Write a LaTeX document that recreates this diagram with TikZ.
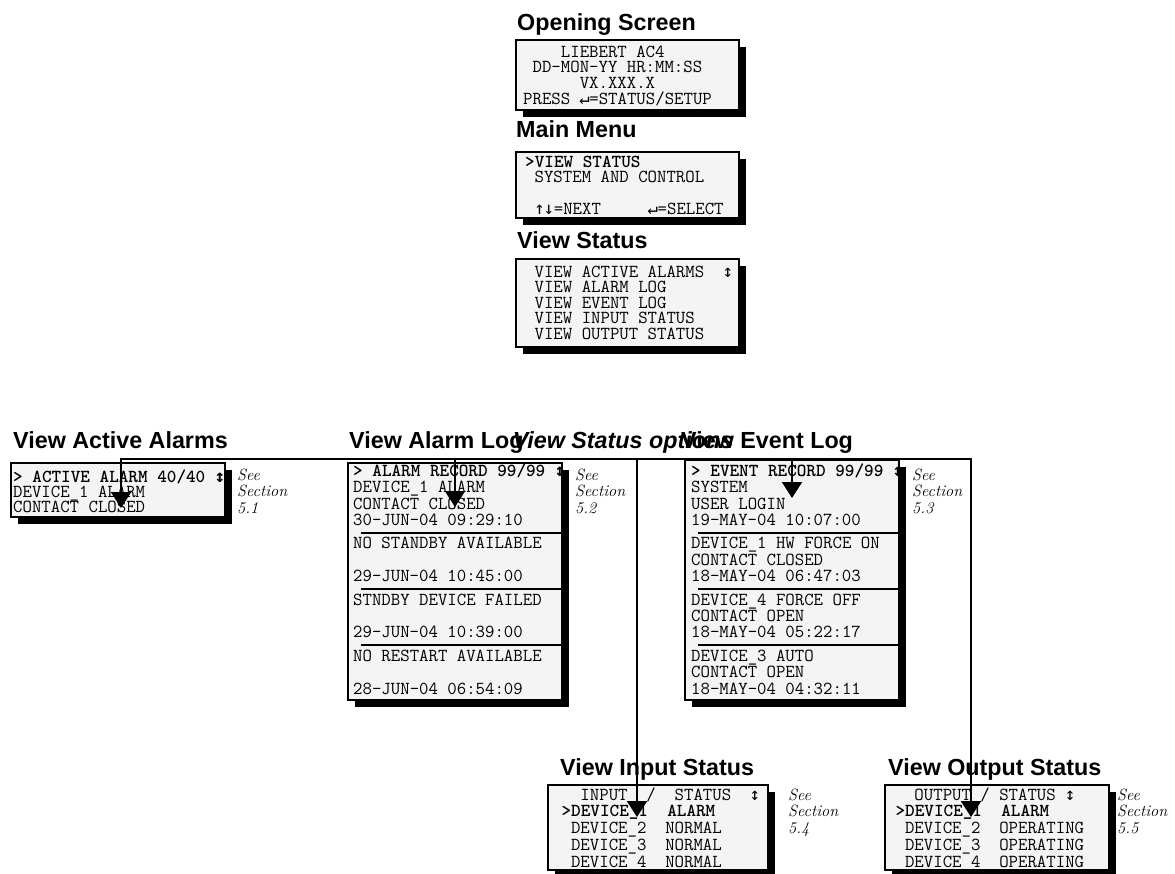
\documentclass[tikz,border=0pt]{standalone}
\usepackage{fontspec}
\usetikzlibrary{arrows.meta,shadows}
\newfontfamily\headfont{Liberation Sans}
\newfontfamily\glyphfont{DejaVu Sans Mono}[Scale=0.95]
\definecolor{lcd}{RGB}{244,244,244}
\def\updn{\makebox[0.525em]{\glyphfont ↕}}
\def\ret{\makebox[0.525em]{\glyphfont ↵}}
\def\nxt{\makebox[1.05em]{\glyphfont ↑\kern-1pt↓}}
\def\st{\rule{0pt}{15pt}}
\def\lcdfont#1{\ttfamily\fontsize{18.3}{#1}\selectfont\lineskiplimit=-50pt}
\tikzset{
  screen/.style={draw, line width=2pt, fill=lcd, inner sep=0pt, outer sep=0pt, anchor=north west,
    drop shadow={shadow xshift=7pt, shadow yshift=-7pt, fill=black, opacity=1}},
  lcdtext/.style={anchor=north west, align=left, inner sep=0pt, font=\lcdfont{#1}},
  lcdtext/.default=16.4,
  heading/.style={anchor=base west, inner sep=0pt, font=\headfont\bfseries\fontsize{23.3}{28}\selectfont},
  seesec/.style={anchor=north west, align=left, inner sep=0pt, font=\itshape\fontsize{16.3}{16.5}\selectfont},
  wire/.style={line width=2pt, line cap=rect},
  sepline/.style={line width=2pt}
}
\begin{document}
\begin{tikzpicture}[x=1pt,y=-1pt]
\useasboundingbox (0,0) rectangle (1175,873);

\node[screen, minimum width=223pt, minimum height=70pt] (open) at (516,40) {};
\node[screen, minimum width=223pt, minimum height=66pt] (menu) at (516,152) {};
\node[screen, minimum width=223pt, minimum height=88pt] (status) at (516,259) {};
\node[screen, minimum width=214pt, minimum height=54pt] (active) at (11,463) {};
\node[screen, minimum width=214pt, minimum height=237pt] (alarm) at (348,463) {};
\node[screen, minimum width=214pt, minimum height=240pt] (event) at (685,460) {};
\node[screen, minimum width=220pt, minimum height=85pt] (input) at (548,785) {};
\node[screen, minimum width=224pt, minimum height=85pt] (output) at (885,785) {};

\foreach \y in {533,589,645}{
  \draw[sepline] (361,\y) -- (562,\y);
  \draw[sepline] (698,\y) -- (899,\y);
}

\node[heading] (open-h) at (517,30) {Opening Screen};
\node[heading] (menu-h) at (516,137) {Main Menu};
\node[heading] (status-h) at (517,248) {View Status};
\node[heading] (active-h) at (13,448) {View Active Alarms};
\node[heading] (alarm-h) at (349,448) {View Alarm Log};
\node[heading] (event-h) at (681,448) {View Event Log};
\node[heading, anchor=base] (options-h) at (623,448) {\itshape View Status options};
\node[heading] (input-h) at (560,775) {View Input Status};
\node[heading] (output-h) at (888,775) {View Output Status};

\node[lcdtext=15.7] (open-t) at (523,42) {\st~~~~LIEBERT AC4\\~DD-MON-YY HR:MM:SS\\~~~~~~VX.XXX.X\\PRESS \ret=STATUS/SETUP};
\node[lcdtext=15.7] (menu-t) at (525,152) {\st\textbf{>VIEW STATUS}\\~SYSTEM AND CONTROL\\\mbox{}\\~\nxt=NEXT~~~~~\ret=SELECT};
\node[lcdtext=15.5] (status-t) at (525,262) {\st~VIEW ACTIVE ALARMS~~\updn\\~VIEW ALARM LOG\\~VIEW EVENT LOG\\~VIEW INPUT STATUS\\~VIEW OUTPUT STATUS};
\node[lcdtext=15.2] (active-t) at (13,467) {\st\textbf{> ACTIVE ALARM 40/40 \updn}\\DEVICE\_1 ALARM\\CONTACT CLOSED};
\node[lcdtext] (alarm-t) at (353,461) {\st\textbf{> ALARM RECORD 99/99 \updn}\\DEVICE\_1 ALARM\\CONTACT CLOSED\\30-JUN-04 09:29:10\\[7pt]%
  NO STANDBY AVAILABLE\\\mbox{}\\29-JUN-04 10:45:00\\[7pt]%
  STNDBY DEVICE FAILED\\\mbox{}\\29-JUN-04 10:39:00\\[7pt]%
  NO RESTART AVAILABLE\\\mbox{}\\28-JUN-04 06:54:09};
\node[lcdtext] (event-t) at (691,461) {\st\textbf{> EVENT RECORD 99/99 \updn}\\SYSTEM\\USER LOGIN\\19-MAY-04 10:07:00\\[7pt]%
  DEVICE\_1 HW FORCE ON\\CONTACT CLOSED\\18-MAY-04 06:47:03\\[7pt]%
  DEVICE\_4 FORCE OFF\\CONTACT OPEN\\18-MAY-04 05:22:17\\[7pt]%
  DEVICE\_3 AUTO\\CONTACT OPEN\\18-MAY-04 04:32:11};
\node[lcdtext=16.7] (input-t) at (552,785) {\st~~~INPUT~~/~~STATUS~~\updn\\~\textbf{>DEVICE\_1~~ALARM}\\~~DEVICE\_2~~NORMAL\\~~DEVICE\_3~~NORMAL\\~~DEVICE\_4~~NORMAL};
\node[lcdtext=16.7] (output-t) at (886,785) {\st~~~OUTPUT~/~STATUS~\updn\\~\textbf{>DEVICE\_1~~ALARM}\\~~DEVICE\_2~~OPERATING\\~~DEVICE\_3~~OPERATING\\~~DEVICE\_4~~OPERATING};

\node[seesec] (active-s) at (237,465) {\st See\\Section\\5.1};
\node[seesec] (alarm-s) at (575,465) {\st See\\Section\\5.2};
\node[seesec] (event-s) at (912,465) {\st See\\Section\\5.3};
\node[seesec] (input-s) at (788,785) {\st See\\Section\\5.4};
\node[seesec] (output-s) at (1117,785) {\st See\\Section\\5.5};

\coordinate (bus) at (0,459);
\coordinate (inAA) at (121,508);
\coordinate (inAL) at (455,507);
\coordinate (inEL) at (792,498);
\coordinate (inIS) at (637,817);
\coordinate (inOS) at (971,817);
\draw[wire] (bus -| inAA) -- (bus -| inOS);
\foreach \t in {inAA,inAL,inEL,inIS,inOS}{
  \draw[wire, -{Triangle[width=20pt,length=16pt]}] (bus -| \t) -- (\t);
}
\end{tikzpicture}
\end{document}
